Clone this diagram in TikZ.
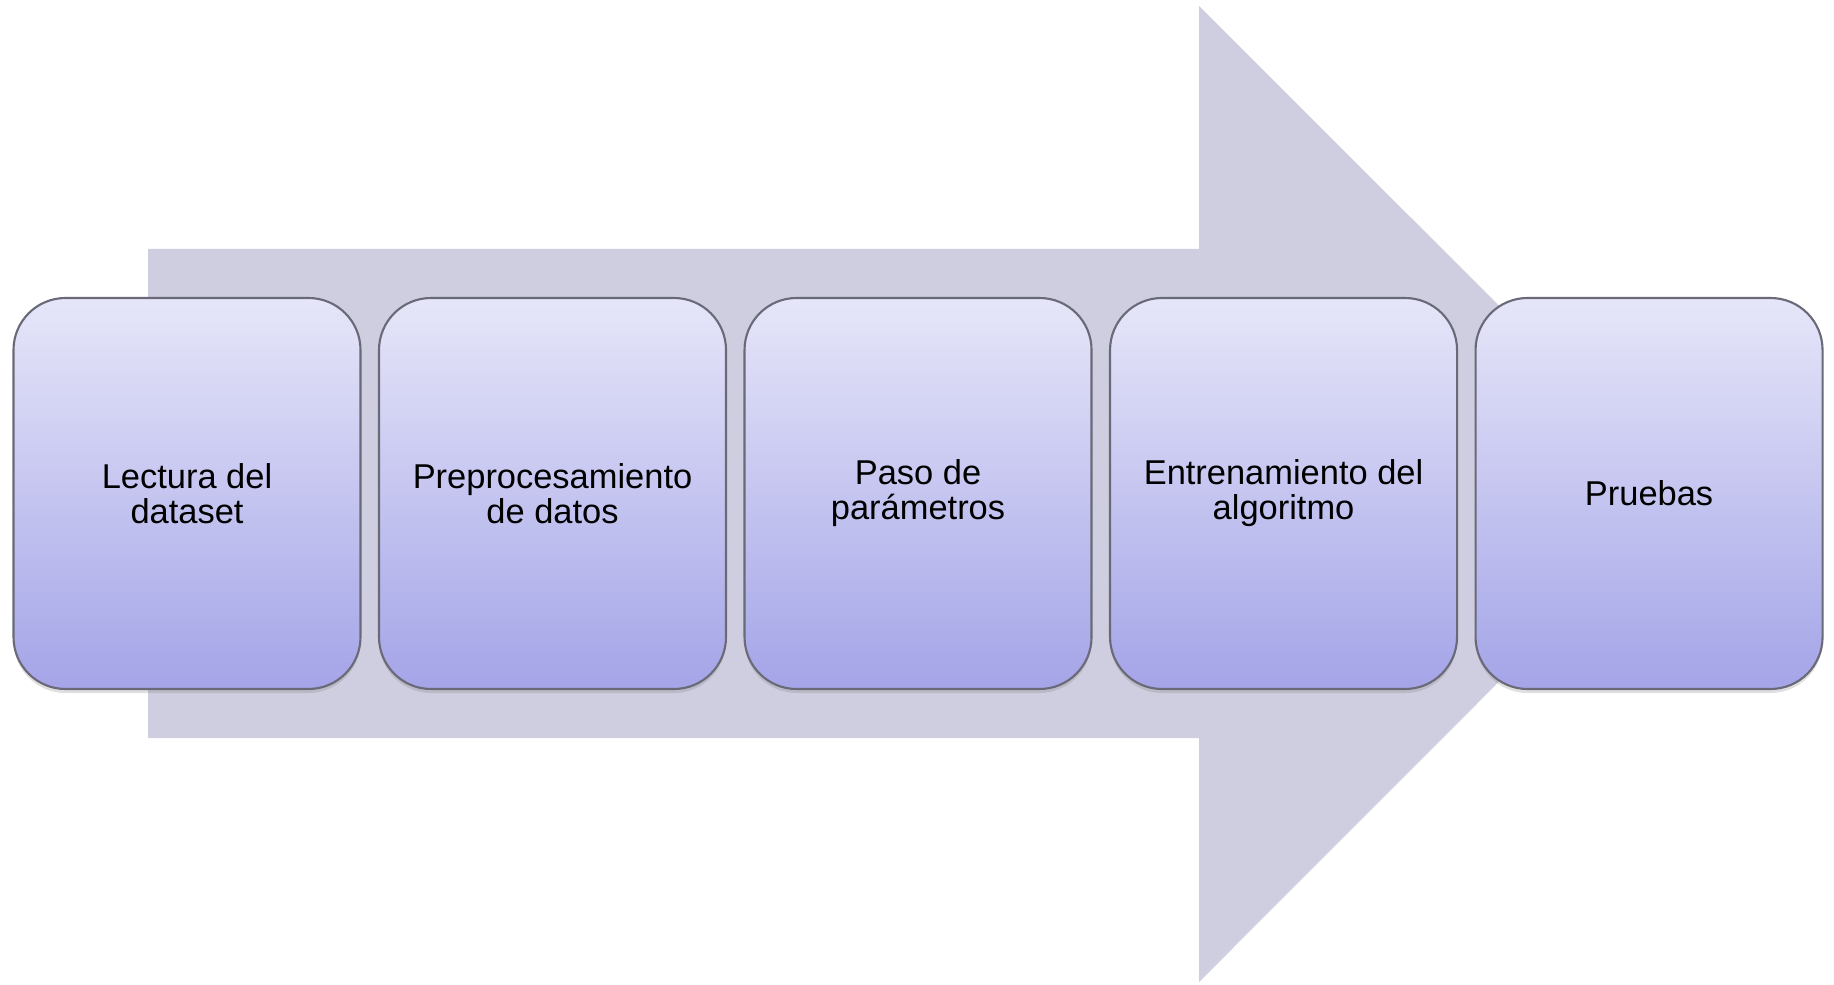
\documentclass[tikz,border=0pt]{standalone}
\usepackage{fontspec}
\setmainfont{Liberation Sans}
\usetikzlibrary{positioning}
\usetikzlibrary{shadows}
\definecolor{arrowgray}{RGB}{206,206,224}
\definecolor{boxtop}{RGB}{230,230,249}
\definecolor{boxbottom}{RGB}{164,164,232}
\definecolor{boxline}{RGB}{105,105,120}

\begin{document}
\begin{tikzpicture}[node distance=0.164cm, thick,
        stage/.style={draw=boxline, line width=0.6pt, rounded corners=0.52cm,
            top color=boxtop, bottom color=boxbottom,
            minimum width=3.47cm, minimum height=3.91cm, inner sep=0pt,
            align=center, font=\fontsize{9.8}{10}\selectfont,
            drop shadow={shadow xshift=0pt, shadow yshift=-0.04cm, opacity=0.25}}]
        \useasboundingbox (0,0) rectangle (18.34,9.84);
        % big arrow behind the stages
        \fill[arrowgray] (1.48,7.35) -- (11.99,7.35) -- (11.99,9.78) -- (16.87,4.905)
            -- (11.99,0.02) -- (11.99,2.46) -- (1.48,2.46) -- cycle;

        \node[stage] (lectura) at (1.87,4.905) {Lectura del\\dataset};
        \node[stage] (prepro) [right=of lectura] {Preprocesamiento\\de datos};
        \node[stage] (paso) [right=of prepro] {Paso de\\parámetros};
        \node[stage] (entren) [right=of paso] {Entrenamiento del\\algoritmo};
        \node[stage] (pruebas) [right=of entren] {Pruebas};
    \end{tikzpicture}
\end{document}
